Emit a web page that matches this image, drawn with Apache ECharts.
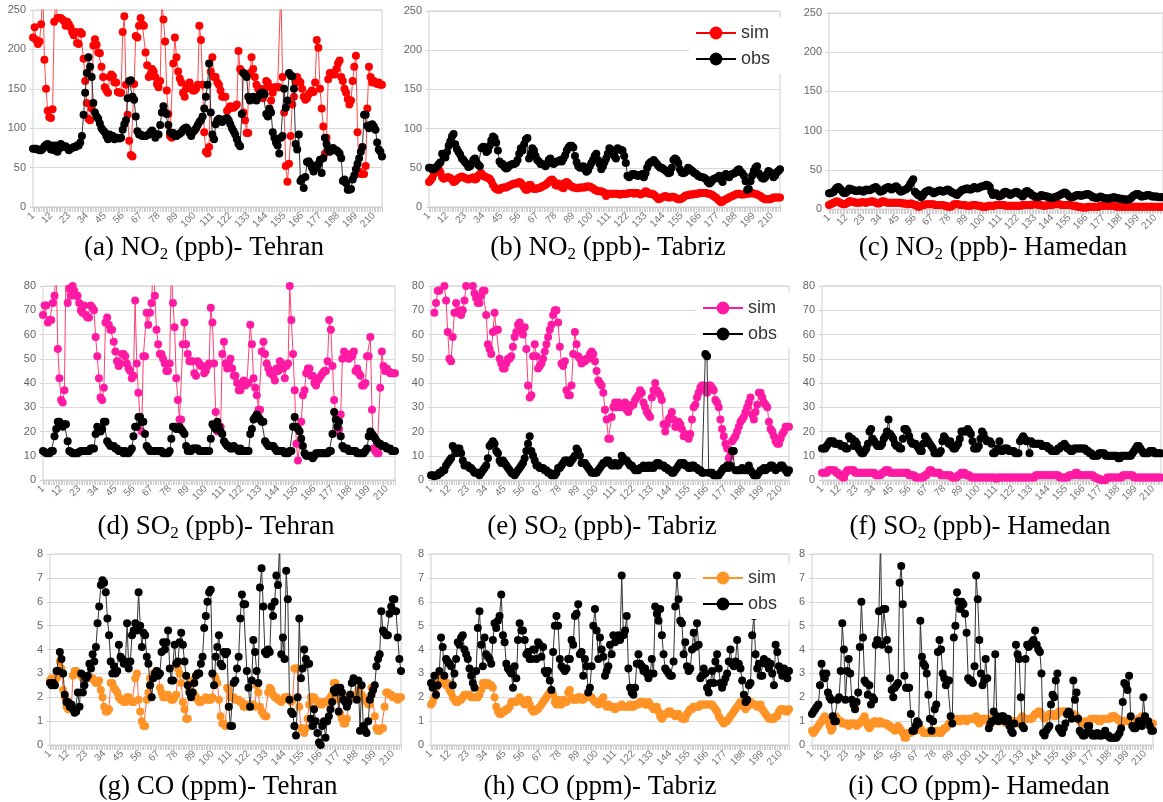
<!DOCTYPE html>
<html><head><meta charset="utf-8">
<script src="https://cdn.jsdelivr.net/npm/echarts@6/dist/echarts.min.js"></script>
<style>html,body{margin:0;padding:0;background:#fff}#c{width:1163px;height:802px}</style>
</head><body><div id="c"></div>
<script>
const days = [1,2,3,4,5,6,7,8,9,10,11,12,13,14,15,16,17,18,19,20,21,22,23,24,25,26,27,28,29,30,31,32,33,34,35,36,37,38,39,40,41,42,43,44,45,46,47,48,49,50,51,52,53,54,55,56,57,58,59,60,61,62,63,64,65,66,67,68,69,70,71,72,73,74,75,76,77,78,79,80,81,82,83,84,85,86,87,88,89,90,91,92,93,94,95,96,97,98,99,100,101,102,103,104,105,106,107,108,109,110,111,112,113,114,115,116,117,118,119,120,121,122,123,124,125,126,127,128,129,130,131,132,133,134,135,136,137,138,139,140,141,142,143,144,145,146,147,148,149,150,151,152,153,154,155,156,157,158,159,160,161,162,163,164,165,166,167,168,169,170,171,172,173,174,175,176,177,178,179,180,181,182,183,184,185,186,187,188,189,190,191,192,193,194,195,196,197,198,199,200,201,202,203,204,205,206,207,208,209,210,211,212,213,214,215];

// (a) NO2 Tehran
const no2TehranSim = [215,228,212,207,210,232,275,187,150,122,114,
113,124,235,262,240,240,240,238,236,230,235,
232,228,222,218,222,208,207,222,220,188,160,
132,112,110,125,205,213,206,196,195,178,165,
152,148,145,165,168,166,158,158,146,145,145,
222,242,155,117,84,66,64,156,217,215,230,
240,232,230,196,180,165,168,175,172,165,156,
152,160,260,238,210,148,118,90,88,182,215,
190,172,163,158,145,140,150,155,158,152,148,
148,150,155,230,212,155,95,70,68,76,172,
190,165,165,158,155,148,140,140,140,122,125,
128,126,126,128,130,198,175,172,120,110,94,
94,170,190,175,165,155,150,150,148,138,150,
160,158,152,135,145,152,152,152,152,280,165,
120,52,32,55,90,130,140,158,165,160,158,
150,140,136,138,143,145,148,146,158,212,202,
150,125,102,68,88,162,170,168,170,168,175,
182,186,165,160,150,145,137,130,135,160,178,
192,95,45,42,42,42,52,125,178,165,158,
160,158,156,158,155,155];
const no2TehranObs = [74,74,74,73,72,72,74,77,79,80,76,
73,78,72,78,70,74,80,78,76,77,75,
72,74,75,76,76,78,78,82,90,117,145,
170,190,178,165,132,120,115,112,106,100,97,
95,90,86,92,88,90,86,88,88,87,88,
98,105,110,138,160,161,140,136,115,96,92,
92,90,90,90,91,92,95,97,94,88,92,
92,104,120,128,120,118,104,95,93,94,90,
90,92,93,95,98,100,101,98,94,90,95,
97,100,104,108,110,115,125,140,155,182,120,
92,86,105,110,112,110,108,110,112,113,110,
105,100,96,92,86,80,77,118,170,168,165,
140,135,138,140,136,135,140,143,145,145,143,
118,115,125,120,95,88,82,78,68,88,90,
150,126,135,170,167,166,150,80,73,92,33,
36,24,38,57,58,55,50,45,52,50,55,
60,43,62,88,80,72,70,72,75,72,72,
70,68,62,33,35,30,22,22,23,35,40,
48,55,62,70,76,117,117,103,100,104,105,
102,98,82,73,70,64];

// (b) NO2 Tabriz
const no2TabrizSim = [32,34,37,42,45,47,48,44,38,36,
37,38,38,37,35,32,33,35,37,38,
39,38,37,36,35,36,37,38,35,36,
40,42,43,40,39,38,37,36,33,28,
25,23,22,22,24,25,25,25,26,27,
28,29,30,30,30,32,31,28,25,22,
22,28,28,25,23,23,24,24,25,26,
27,28,30,32,34,35,33,28,27,30,
28,25,24,31,32,30,27,26,25,25,
24,24,25,25,25,25,26,26,26,25,
24,22,21,20,20,20,19,18,14,17,
17,17,17,17,17,17,16,16,17,17,
17,17,18,18,18,17,18,18,17,16,
17,18,20,19,17,17,17,16,14,12,
10,11,12,13,14,13,12,12,13,13,
12,11,10,10,11,12,14,15,15,16,
16,16,17,17,17,18,18,18,18,18,
17,17,16,15,13,12,10,8,6,7,
9,10,11,12,13,14,15,16,17,17,
16,16,16,17,17,17,18,18,17,17,
16,15,14,12,11,10,10,10,10,11,
12,12,12,12,12];
const no2TabrizObs = [50,50,48,48,50,52,55,57,68,65,
63,70,78,84,90,93,80,74,70,67,
62,60,57,55,51,52,55,60,62,57,
54,52,75,77,76,70,72,78,85,90,
88,82,72,58,55,55,51,49,50,53,
54,55,55,56,60,68,75,72,80,86,
88,62,68,75,72,65,60,58,55,55,
54,52,55,60,62,56,55,57,58,58,
60,58,62,66,72,76,78,78,76,65,
57,52,50,51,52,48,45,47,52,56,
60,65,68,60,55,48,52,57,62,68,
75,73,68,65,62,75,73,73,72,65,
56,40,38,40,42,42,41,40,40,41,
42,38,43,50,55,57,58,60,57,55,
52,50,50,48,47,45,43,44,50,60,
62,60,56,48,44,43,44,46,50,48,
47,45,43,42,40,39,38,38,37,35,
32,30,32,35,36,37,38,40,35,32,
40,42,40,38,41,42,43,44,47,48,
45,43,40,33,22,23,33,40,46,50,
52,43,40,37,36,38,42,46,44,42,
38,40,44,46,48];

// (c) NO2 Hamedan
const no2HamedanSim = [5,6,7,8,9,10,9,8,7,6,
6,7,8,10,10,9,9,8,8,8,
8,9,9,8,8,9,9,10,10,9,
8,7,7,8,10,10,9,8,8,8,
8,8,8,8,8,8,8,7,7,7,
6,6,7,7,6,5,5,3,3,4,
5,5,6,6,6,6,6,6,5,5,
5,5,5,5,4,4,3,3,3,4,
6,6,6,6,5,5,5,5,4,4,
4,4,5,5,5,4,4,4,3,3,
3,3,4,4,4,4,4,5,5,5,
5,5,5,4,4,4,4,4,4,4,
4,4,4,4,5,5,5,5,5,5,
5,6,6,6,5,5,5,4,4,4,
5,5,5,5,6,6,6,6,6,5,
5,5,5,5,5,5,4,4,4,3,
3,3,2,2,2,2,3,3,3,3,
3,3,3,3,4,4,4,4,4,4,
4,4,4,4,3,3,3,3,3,3,
3,3,3,3,3,3,3,3,3,3,
3,3,3,3,3,3,3,3,3,3,
3,3,3,3,3];
const no2HamedanObs = [20,20,21,22,25,27,28,26,24,21,
20,21,23,26,25,25,24,23,23,24,
24,23,22,24,25,24,24,25,26,27,
28,26,24,22,23,24,26,27,28,27,
25,26,28,29,27,24,22,23,24,25,
26,28,32,35,38,22,20,18,18,15,
17,20,22,23,24,23,22,20,21,22,
23,24,23,22,23,24,25,24,22,21,
20,19,18,20,22,24,25,25,26,26,
25,25,26,28,27,26,27,28,29,29,
30,31,30,28,22,18,19,20,18,16,
17,18,21,22,21,20,18,19,20,21,
22,21,19,18,16,18,22,23,21,20,
18,17,16,15,15,16,18,17,17,16,
16,15,14,14,15,15,16,17,18,19,
20,21,20,18,16,15,15,16,17,18,
18,17,17,18,18,19,19,18,17,15,
15,14,14,15,16,15,14,14,13,13,
14,14,15,15,14,14,13,13,13,12,
12,12,12,13,15,17,18,19,19,18,
16,16,17,17,18,18,17,16,16,16,
16,15,15,15,15];

// (d) SO2 Tehran
const so2TehranSim = [68,72,72,65,66,66,73,76,88,54,
42,33,32,37,88,73,79,76,80,78,
76,76,73,70,69,72,68,67,67,72,
71,70,59,51,42,34,33,38,65,67,
64,62,62,57,53,49,47,48,52,52,
51,48,46,45,42,43,74,48,36,26,
20,51,51,69,64,69,73,90,76,62,
56,52,52,50,48,45,45,48,90,73,
63,42,33,25,25,56,65,56,52,49,
49,49,44,43,49,48,47,47,44,45,
47,48,71,65,48,28,20,21,22,52,
57,48,46,48,50,46,43,43,40,37,
37,40,41,39,40,40,64,56,42,38,
35,29,29,53,57,52,48,46,44,45,
43,41,46,45,49,48,46,42,47,48,
80,66,52,37,15,8,15,24,35,37,
44,46,46,43,43,40,39,41,42,43,
44,45,45,49,66,62,47,33,27,20,
21,27,50,53,52,51,50,52,51,53,
45,46,44,43,39,39,40,51,51,59,
29,13,12,11,11,38,53,47,45,46,
45,44,44,44,44];
const so2TehranObs = [12,11.5,11,11,11,12,12,18,21,24,
24,23,22,23,23,16,12,11.5,11,11,
11,11,11.5,12,12,12,12,12,12,13,
13,13,19,22,21,20,21,24,24,16,
15,14,14,14,13,13,12,12,12,11,
12,11,11,12,13,18,22,22,26,26,
24,24,19,14,13,12,12,12,12,12,
12,12,12,11,11,11,11,12,17,22,
22,21,21,22,21,20,19,14,12,12,
12,13,13,13,13,12,12,12,12,12,
12,12,17,23,22,21,24,22,20,19,
16,15,14,14,13,13,14,13,13,12,
13,12,12,12,12,12,19,21,25,26,
27,26,25,24,24,16,15,14,14,14,
14,13,12,12,12,12,12,11,11,11,
12,12,22,26,22,21,20,17,14,11,
10,10,10,10,9,10,11,11,11,11,
11,11,11,11,12,12,19,28,25,22,
24,18,14,13,13,13,12,12,12,12,
12,11,11,11,11,11,12,13,18,20,
19,18,17,16,15,15,14,14,14,13,
13,13,12,12,12];

// (e) SO2 Tabriz
const so2TabrizSim = [null,null,69,73,78,78,85,88,80,74,
61,50,49,59,69,73,69,70,68,70,
74,80,86,88,85,80,77,75,73,73,
76,78,78,68,56,54,52,61,69,62,
62,50,48,46,46,48,50,50,51,55,
59,61,64,65,62,60,63,54,39,34,
35,51,56,51,46,47,48,50,53,56,
59,62,64,68,70,70,65,55,48,47,
49,37,35,35,39,52,61,56,51,50,
48,49,49,50,50,52,53,52,49,45,
41,40,39,36,29,25,17,17,26,30,
32,30,32,30,31,30,32,29,28,30,
31,31,33,34,35,37,36,32,30,28,
27,26,34,37,40,37,36,35,33,23,
20,23,25,26,28,25,22,22,24,23,
21,18,19,18,17,19,25,30,31,34,
36,38,39,39,37,36,39,39,38,37,
33,32,30,25,21,18,15,13,9,10,
16,17,18,20,22,24,25,26,28,30,
32,34,27,25,28,31,36,36,34,32,
31,30,24,21,20,18,16,15,15,17,
19,20,22,22,22];
const so2TabrizObs = [2,2,1.5,2,2,3,3,4,4,6,
7,8,9,14,13,11,13,13,11,8,
6,6,6,5,5,4,3,3,3,2,
3,4,5,6,9,14,15,16,15,12,
11,8,7,8,7,6,5,4,3,2.5,
2,3,4,5,6,7,9,12,15,18,
12,10,8,6,6,5,5,5,4,4,
3,3,2,2,2,3,5,5,6,7,
8,8,8,7,8,9,10,13,12,10,
7,7,7,6,5,4,3,3,3,3,
4,5,6,7,7,8,8,7,6,6,
7,6,6,7,10,9,8,8,7,6,
6,5,4,4,4,5,5,6,5,5,
6,5,6,5,6,7,7,6,6,6,
5,5,4,4,3,3,4,5,6,7,
7,7,6,6,5,5,6,6,5,5,
4,4,3,3,52,51,3,3,3,2,
2,2,2,3,4,5,5,6,5,6,
12,12,4,4,4,4,5,4,4,4,
6,4,3,2,2,2,3,4,4,5,
4,5,5,6,6,5,4,5,5,6,
6,5,4,3,4];

// (f) SO2 Hamedan
const so2HamedanSim = [3,3,3,3,4,4,4,4,4,3,
3,2,2,1,1,3,4,4,4,4,
4,3,3,3,3,3,3,3,3,3,
3,3,3,3,2,2,2,2,3,3,
4,4,4,3,3,3,3,3,3,3,
3,3,3,3,3,2,2,2,2,1,
1,1,1,1,1,2,2,3,4,4,
3,3,3,3,3,2,2,2,2,2,
2,2,1,1,1,1,2,2,3,3,
3,2,2,2,1,1,1,1,1,1,
1,1,1,1,1,1,1,1,1,1,
0.5,1,1,1,1,1,1,1,1,1,
1,1,1,1,1,1,1,1,1,1,
1,1,1,1,1,2,2,2,2,2,
2,2,2,2,2,2,2,2,2,2,
1,1,1,1,1,1,2,2,2,2,
3,3,2,2,2,2,2,2,2,2,
2,2,1,1,0.5,0.5,0,0,0,0,
1,1,1,1,1,1,1,1,1,1,
2,2,2,2,2,2,2,1,1,1,
1,1,1,1,1,1,1,1,1,1,
1,1,1,1,1];
const so2HamedanObs = [13,13,13,14,15,16,16,16,15,15,
15,15,14,14,14,13,13,18,17,17,
14,16,15,13,12,11,11,12,13,15,
20,21,17,16,15,14,14,14,15,17,
18,20,25,19,18,17,15,14,14,13,
13,17,21,21,20,18,16,15,15,15,
14,13,12,12,15,18,17,16,15,14,
13,11,11,11,11,12,16,18,17,16,
15,16,14,13,13,14,15,17,20,20,
20,20,21,20,19,16,13,13,13,14,
17,20,19,17,16,16,16,15,11,11,
12,13,16,12,12,13,13,13,12,12,
12,12,11,11,11,16,17,18,17,16,
16,11,16,15,15,15,15,15,15,14,
14,14,14,13,13,12,12,12,12,13,
13,14,14,15,14,13,13,12,12,13,
13,13,13,13,13,13,13,12,12,11,
11,10,10,10,10,11,11,11,11,10,
10,10,10,10,10,10,10,9,9,10,
10,10,10,10,10,10,11,12,13,14,
14,13,12,11,11,11,11,12,12,12,
11,11,11,11,11];

// (g) CO Tehran
const coTehranSim = [2.7,2.8,2.6,2.7,2.8,2.9,3.5,3.2,2.3,2.0,
1.6,1.5,1.5,1.5,2.9,3.1,3.1,3.0,3.0,2.9,
2.8,2.9,2.9,2.9,2.8,2.8,2.8,2.7,2.6,2.6,
2.7,2.3,2.0,1.6,1.4,1.4,1.5,2.6,2.6,2.4,
2.3,2.2,2.0,1.9,1.9,1.8,1.8,2.0,2.0,1.9,
1.8,1.8,2.8,3.0,1.9,1.4,1.0,0.8,0.8,1.9,
2.2,2.8,2.8,3.0,3.0,3.1,3.0,2.4,2.2,2.0,2.0,
2.0,2.1,2.0,1.9,1.9,2.0,2.1,3.2,3.0,2.6,
1.8,1.5,1.1,1.1,2.3,2.7,2.2,2.1,2.0,1.9,
1.8,1.8,1.9,1.9,2.0,1.9,1.9,1.9,2.0,2.9,
2.8,2.6,1.9,1.2,0.9,0.9,0.8,2.4,2.3,2.0,
2.0,2.0,1.9,1.9,1.9,1.8,1.8,1.6,1.6,1.7,1.6,
1.6,1.7,1.7,1.6,2.5,2.2,1.6,1.4,1.3,1.2,
1.2,2.2,2.4,2.3,2.1,2.0,2.0,1.9,1.9,1.8,
1.9,2.0,2.0,2.0,1.9,1.8,1.9,3.2,3.2,3.2,1.6,
0.7,0.7,0.5,0.7,1.1,1.7,2.0,2.0,2.0,1.9,
1.8,1.8,1.7,1.7,1.8,1.8,1.8,1.9,2.0,2.1,
2.6,2.6,2.2,1.9,1.3,1.1,0.9,0.9,1.1,2.0,
2.1,2.1,2.0,2.0,2.1,2.3,2.2,2.1,2.0,1.9,
1.8,1.7,1.7,2.4,2.4,1.2,0.7,0.6,0.6,0.7,
0.7,1.6,2.2,2.2,2.1,
2.1,2.0,2.0,2.0,1.9,2.0,2.0];
const coTehranObs = [2.6,2.5,2.6,2.5,3.1,3.1,3.9,3.6,3.0,2.1,
1.8,1.8,1.6,1.7,1.5,1.35,1.4,2.2,1.6,3.0,
2.2,2.5,2.8,2.9,3.4,3.2,3.8,3.5,4.1,5.1,
5.8,6.7,6.9,6.8,6.4,5.3,4.6,3.5,3.0,3.3,
3.0,3.1,4.2,3.7,3.6,3.4,3.5,5.1,3.2,3.5,
4.6,4.8,5.1,4.8,6.4,5.0,4.1,4.7,4.6,3.7,
3.4,2.5,2.0,2.8,3.0,3.1,2.9,3.0,3.9,4.3,
4.0,4.3,4.8,3.2,2.7,2.7,4.2,3.4,3.5,4.3,
4.7,4.2,3.5,2.9,2.5,2.2,2.0,2.2,2.6,2.9,
3.0,3.0,3.4,3.7,4.9,5.4,6.0,6.4,6.5,3.0,
2.5,3.7,4.1,4.6,3.4,3.3,3.9,3.8,3.9,1.6,
0.8,0.8,2.6,2.7,3.2,3.7,5.3,6.3,5.9,5.9,
3.1,2.4,1.6,2.7,4.4,3.9,3.1,2.6,6.6,7.4,
5.8,3.9,3.8,4.0,3.9,5.8,5.4,6.0,7.1,6.7,
8.5,3.8,4.5,3.6,7.3,6.1,1.9,1.4,1.3,0.8,
0.4,2.0,5.3,2.8,3.2,4.0,3.6,3.4,3.4,1.1,
0.8,1.5,1.0,0.5,0.1,0.0,0.8,1.0,0.3,1.0,
1.2,1.5,1.8,2.3,2.2,2.4,1.4,2.4,2.2,1.9,
1.8,1.6,1.8,2.1,2.6,2.8,2.7,1.9,2.7,0.6,
2.5,0.8,0.6,0.5,1.0,1.9,2.1,2.3,2.5,3.3,
3.6,3.8,5.6,4.8,4.7,4.6,4.6,5.5,5.8,6.1,
6.1,5.6,4.5,3.6,3.1];

// (h) CO Tabriz
const coTabrizSim = [1.7,1.8,2.0,2.4,2.8,3.0,2.8,2.9,2.6,2.5,
2.6,2.3,2.2,2.0,1.9,1.8,1.8,1.9,1.9,2.0,
2.1,2.1,2.1,2.1,2.0,2.0,2.0,2.0,2.0,2.1,
2.3,2.6,2.6,2.5,2.6,2.5,2.5,2.4,2.0,1.6,
1.4,1.3,1.3,1.4,1.4,1.5,1.5,1.6,1.8,1.8,
1.8,1.8,1.9,2.0,1.9,1.8,1.7,1.8,1.9,1.7,
1.5,1.4,1.4,1.5,1.5,1.6,1.7,1.8,1.9,2.0,
2.1,2.2,2.2,2.1,1.8,1.7,1.9,1.7,1.7,1.9,
1.8,1.8,2.2,2.3,2.0,1.9,1.9,1.9,2.0,2.0,
1.9,1.9,2.0,2.0,2.1,2.0,2.0,1.9,1.8,1.8,
1.7,1.8,1.9,2.0,1.7,1.6,1.7,1.6,1.6,1.6,
1.5,1.6,1.6,1.6,1.7,1.6,1.6,1.6,1.6,1.7,
1.6,1.6,1.7,1.7,1.7,1.8,1.8,1.8,1.7,1.7,
1.8,1.7,1.6,1.5,1.5,1.6,1.4,1.2,1.1,1.2,
1.3,1.3,1.4,1.4,1.3,1.3,1.2,1.3,1.3,1.2,
1.1,1.1,1.1,1.3,1.4,1.5,1.5,1.6,1.6,1.6,
1.6,1.7,1.7,1.7,1.7,1.7,1.7,1.7,1.7,1.6,
1.5,1.4,1.2,1.1,1.0,0.9,1.0,1.0,1.1,1.2,
1.3,1.4,1.5,1.6,1.7,1.8,1.7,1.6,1.5,1.6,
1.7,1.8,1.7,1.7,1.7,1.6,1.6,1.7,1.5,1.4,
1.3,1.2,1.1,1.1,1.1,1.1,1.2,1.2,1.4,1.5,
1.5,1.5,1.4,1.4,1.5];
const coTabrizObs = [2.6,2.4,2.9,2.1,2.5,3.1,4.5,4.1,2.9,3.6,
3.5,3.4,3.3,2.5,3.0,3.6,4.3,4.2,4.5,4.6,
4.0,3.8,3.6,3.2,2.9,2.6,2.4,3.1,4.9,5.6,
4.2,3.3,4.5,3.8,3.7,3.6,3.4,4.4,5.1,4.9,
5.2,5.4,6.3,4.6,4.3,3.4,3.2,3.1,3.0,2.4,
3.3,2.8,4.4,5.1,4.8,4.8,4.4,3.8,3.9,3.6,
3.6,4.0,4.0,3.6,4.3,4.2,3.7,4.1,3.1,3.0,
3.1,2.7,2.3,3.9,5.0,5.4,5.0,3.6,3.3,3.2,
3.1,3.2,3.6,3.6,4.4,4.2,5.4,5.5,5.9,3.8,
3.9,2.9,3.6,3.3,2.2,2.4,3.3,5.0,5.7,4.8,
3.6,4.5,4.0,3.7,2.9,3.1,3.3,4.2,3.8,4.6,
4.3,4.5,4.6,4.4,7.1,4.6,4.8,5.4,3.2,2.4,
2.2,2.1,2.4,3.4,3.8,3.4,3.3,3.1,3.2,3.0,
2.8,3.0,3.6,3.0,5.8,5.5,5.2,5.7,4.6,3.8,
3.2,3.1,3.0,2.9,2.9,3.5,5.8,7.1,6.1,5.2,
5.1,3.8,4.3,3.3,3.1,3.2,4.0,4.7,4.1,5.1,
4.2,2.8,2.9,3.2,3.0,2.4,2.2,2.6,3.1,2.6,
3.5,3.8,3.2,2.6,2.4,2.6,2.8,3.0,3.5,4.0,
3.4,3.3,3.5,4.4,3.4,3.2,2.7,2.1,1.8,1.9,
2.5,2.6,4.6,5.4,3.8,3.2,3.4,2.9,2.9,3.6,
3.4,3.5,3.2,3.4,3.0,2.5,4.2,3.9,3.3,3.1,
2.9,3.2,3.0,2.8,3.1];

// (i) CO Hamedan
const coHamedanSim = [0.6,0.5,0.6,0.7,0.8,0.9,1.0,1.1,1.2,1.1,
1.0,0.8,0.6,0.7,1.1,1.2,1.1,1.0,1.0,0.9,0.9,
0.9,0.9,0.8,0.9,0.9,0.9,0.9,0.8,0.9,0.9,
1.0,1.1,1.2,1.0,0.8,0.7,0.8,0.9,1.0,1.0,
0.9,0.9,1.0,0.9,0.9,0.9,0.9,0.8,0.8,0.7,0.7,
0.6,0.7,0.8,0.7,0.6,0.5,0.3,0.3,0.5,0.5,
0.5,0.6,0.6,0.6,0.7,0.7,0.7,0.6,0.5,0.5,0.5,
0.5,0.6,0.6,0.5,0.5,0.6,0.6,0.5,0.5,0.6,
0.7,0.7,0.8,0.9,0.9,1.0,1.0,1.0,1.1,1.0,1.0,
1.1,1.1,1.1,1.0,1.1,1.1,1.1,1.1,1.1,1.2,
1.0,0.9,1.0,1.1,1.1,1.1,1.0,1.1,1.1,1.0,1.0,
1.0,1.1,1.0,1.0,1.0,1.0,1.0,0.9,1.0,1.0,
1.0,1.0,1.0,1.0,0.9,1.0,1.1,1.2,1.1,1.1,1.1,
1.1,1.1,1.1,1.2,1.3,1.3,1.4,1.4,1.3,1.2,
1.1,1.2,1.2,1.3,1.3,1.3,1.2,1.2,1.3,1.4,1.4,
1.4,1.4,1.4,1.3,1.3,1.3,1.3,1.3,1.2,1.2,
1.1,1.0,1.0,0.9,0.9,1.0,1.0,1.0,1.1,1.1,1.1,
1.1,1.1,1.0,1.0,1.1,1.1,1.1,1.1,1.1,1.1,
1.2,1.2,1.2,1.1,1.1,1.0,1.0,1.0,1.0,1.0,1.0,
1.0,1.0,1.0,1.0,1.0,1.0,1.1,1.1,1.2,1.1,
1.0,1.0,0.9,0.9,0.9,0.9];
const coHamedanObs = [1.3,1.4,1.5,1.6,1.7,2.5,3.4,3.0,2.8,3.0,
2.2,2.0,1.9,1.2,1.0,1.0,1.9,2.0,3.1,5.1,
4.0,1.9,3.1,3.6,3.0,1.9,1.7,1.5,1.8,2.2,
4.1,6.0,4.5,2.7,2.6,2.1,2.5,1.7,2.0,1.9,
4.2,4.4,5.6,8.6,4.2,5.7,5.7,4.4,4.0,2.8,
2.3,2.0,2.4,2.5,2.6,6.8,7.5,5.9,2.9,2.4,
2.4,2.4,1.3,0.6,0.6,0.8,1.0,0.9,5.2,3.7,
3.4,3.3,3.0,2.1,1.1,0.6,1.0,1.5,1.7,3.9,
4.4,4.0,3.0,2.8,2.5,2.7,2.7,1.2,0.9,4.5,
5.0,6.4,6.0,5.7,6.0,5.9,5.5,4.7,2.8,2.7,
2.7,2.6,3.3,7.1,6.1,4.4,3.0,2.5,2.7,3.6,
2.8,0.7,0.9,1.0,1.4,3.8,1.2,1.0,1.1,1.2,
1.2,1.0,1.1,1.1,0.8,0.6,0.5,0.9,4.2,3.8,
3.6,2.0,0.8,0.7,3.6,4.2,4.1,4.2,4.3,4.4,
4.8,4.2,4.0,3.9,3.0,0.5,0.4,0.6,0.7,0.8,
1.7,2.1,2.0,2.7,3.0,0.7,0.6,0.5,0.7,0.9,
1.3,1.4,1.3,1.1,2.7,1.9,2.2,1.1,0.6,0.5,
0.4,0.4,0.5,0.8,0.8,0.5,0.4,0.4,0.4,0.5,
0.4,0.4,0.4,0.5,0.6,0.4,0.4,0.3,0.3,0.3,
0.3,0.3,0.4,0.5,0.7,1.8,2.6,2.5,2.3,2.9,
1.2,0.8,0.7,0.7,0.8,1.0,1.0,0.8,2.0,1.2,
1.0,1.0,0.8,0.6,0.6];

const seriesNames = ['sim', 'obs'];
const captions = [
  ['(a) NO', '2', ' (ppb)- Tehran'], ['(b) NO', '2', ' (ppb)- Tabriz'], ['(c) NO', '2', ' (ppb)- Hamedan'],
  ['(d) SO', '2', ' (ppb)- Tehran'], ['(e) SO', '2', ' (ppb)- Tabriz'], ['(f) SO', '2', ' (ppb)- Hamedan'],
  ['(g) CO (ppm)- Tehran', '', ''], ['(h) CO (ppm)- Tabriz', '', ''], ['(i) CO (ppm)- Hamedan', '', '']
];

const RED = '#ff0000', PINK = '#ff1aa3', ORANGE = '#ff9326';
const panels = [
  {key:'a', grid:{left:33, top:10, width:349, height:197}, max:250, interval:50, sim:no2TehranSim, obs:no2TehranObs, c:RED, cl:'#ff4a4a', cap:[204,248]},
  {key:'b', grid:{left:429, top:11, width:351, height:196}, max:250, interval:50, sim:no2TabrizSim, obs:no2TabrizObs, c:RED, cl:'#ff4a4a', cap:[608,248], legend:[689,18]},
  {key:'c', grid:{left:829, top:13, width:334, height:196}, max:250, interval:50, sim:no2HamedanSim, obs:no2HamedanObs, c:RED, cl:'#ff4a4a', cap:[993,248]},
  {key:'d', grid:{left:43, top:286, width:352, height:194}, max:80, interval:10, sim:so2TehranSim, obs:so2TehranObs, c:PINK, cl:'#ff4070', cap:[216,527]},
  {key:'e', grid:{left:431, top:286, width:358, height:194}, max:80, interval:10, sim:so2TabrizSim, obs:so2TabrizObs, c:PINK, cl:'#ff4070', cap:[602,527], legend:[696,293]},
  {key:'f', grid:{left:822, top:286, width:339, height:194}, max:80, interval:10, sim:so2HamedanSim, obs:so2HamedanObs, c:PINK, cl:'#ff4070', cap:[980,527]},
  {key:'g', grid:{left:50, top:554, width:351, height:191}, max:8, interval:1, sim:coTehranSim, obs:coTehranObs, c:ORANGE, cl:'#ff6a45', cap:[218,787]},
  {key:'h', grid:{left:431, top:554, width:358, height:191}, max:8, interval:1, sim:coTabrizSim, obs:coTabrizObs, c:ORANGE, cl:'#ff6a45', cap:[600,787], legend:[696,563]},
  {key:'i', grid:{left:812, top:554, width:341, height:191}, max:8, interval:1, sim:coHamedanSim, obs:coHamedanObs, c:ORANGE, cl:'#ff6a45', cap:[979,787]}
];

const grid = [], xAxis = [], yAxis = [], series = [], legend = [], graphic = [];
panels.forEach((p, k) => {
  grid.push(Object.assign({show:true, borderColor:'#cfcfcf', borderWidth:1, backgroundColor:'#fff'}, p.grid));
  xAxis.push({type:'category', gridIndex:k, data:days, boundaryGap:false,
    axisLine:{show:true, lineStyle:{color:'#c8c8c8'}},
    axisTick:{show:true, interval:0, length:5, lineStyle:{color:'#cfcfcf'}},
    axisLabel:{interval:10, rotate:45, fontSize:10, color:'#777', fontFamily:'Liberation Sans', margin:7},
    splitLine:{show:false}});
  yAxis.push({type:'value', gridIndex:k, min:0, max:p.max, interval:p.interval,
    axisLine:{show:false}, axisTick:{show:true, length:3, lineStyle:{color:'#cfcfcf'}},
    axisLabel:{fontSize:11, color:'#666', fontFamily:'Liberation Sans', margin:7},
    splitLine:{lineStyle:{color:'#dadada', width:1}}});
  series.push({type:'line', name:seriesNames[0] + '_' + p.key, xAxisIndex:k, yAxisIndex:k, data:p.sim,
    symbol:'circle', symbolSize:8, showSymbol:true, showAllSymbol:true, clip:true,
    itemStyle:{color:p.c}, lineStyle:{color:p.cl, width:1}, emphasis:{disabled:true}, z:2});
  series.push({type:'line', name:seriesNames[1] + '_' + p.key, xAxisIndex:k, yAxisIndex:k, data:p.obs,
    symbol:'circle', symbolSize:8, showSymbol:true, showAllSymbol:true, clip:true,
    itemStyle:{color:'#000'}, lineStyle:{color:'#333', width:1}, emphasis:{disabled:true}, z:3});
  if (p.legend) {
    legend.push({orient:'vertical', left:p.legend[0], top:p.legend[1], backgroundColor:'#fff',
      padding:[6,14,6,6], itemWidth:40, itemHeight:16, itemGap:8, selectedMode:false,
      lineStyle:{width:2},
      textStyle:{fontSize:18, color:'#333', fontFamily:'Liberation Sans'},
      formatter: n => n.split('_')[0],
      data:[{name:seriesNames[0] + '_' + p.key, lineStyle:{color:p.c}}, {name:seriesNames[1] + '_' + p.key, lineStyle:{color:'#000'}}]});
  }
  const cp = captions[k];
  let txt = '{m|' + cp[0] + '}';
  if (cp[1]) txt += '{s|' + cp[1] + '}{m|' + cp[2] + '}';
  graphic.push({type:'text', x:p.cap[0], y:p.cap[1], z:10,
    style:{text:txt, align:'center', verticalAlign:'middle',
      rich:{m:{fontSize:27, fontFamily:'Liberation Serif', fill:'#000', lineHeight:30, verticalAlign:'middle'},
            s:{fontSize:17, fontFamily:'Liberation Serif', fill:'#000', lineHeight:14, verticalAlign:'bottom'}}}});
});

const chart = echarts.init(document.getElementById('c'), null, {renderer:'canvas'});
chart.setOption({animation:false, backgroundColor:'#fff', grid, xAxis, yAxis, series, legend, graphic});
</script></body></html>
